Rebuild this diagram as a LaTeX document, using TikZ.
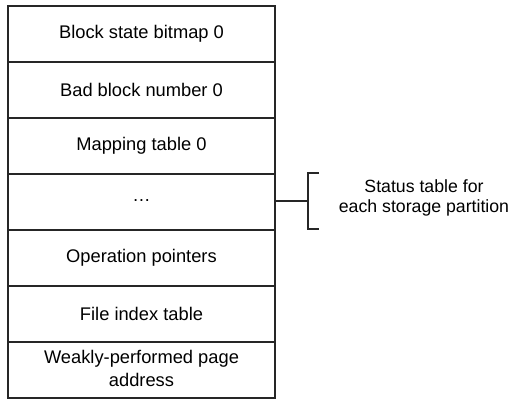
\documentclass[tikz,border=0pt]{standalone}
\usepackage{fontspec}
\setmainfont{Liberation Sans}
\begin{document}
\begin{tikzpicture}[x=1pt,y=-1pt,
  cell/.style={draw=black!85, line width=1.2pt, rectangle, minimum width=267pt,
    minimum height=56pt, inner sep=0pt, align=center,
    font=\fontsize{18.3}{23}\selectfont},
  link/.style={draw=black!85, line width=1.2pt},
  note/.style={align=center, font=\fontsize{17.7}{20.5}\selectfont}]
  \useasboundingbox (0,0) rectangle (510,399);
  % stacked table entries
  \node[cell] (r1) at (141.5,34)  {Block state bitmap 0};
  \node[cell] (r2) at (141.5,90)  {Bad block number 0};
  \node[cell] (r3) at (141.5,146) {Mapping table 0};
  \node[cell] (r4) at (141.5,202) {\raisebox{0.3ex}{…}};
  \node[cell] (r5) at (141.5,258) {Operation pointers};
  \node[cell] (r6) at (141.5,314) {File index table};
  \node[cell] (r7) at (141.5,370) {\raisebox{1pt}{\begin{tabular}{@{}c@{}}Weakly-performed page\\address\end{tabular}}};
  % bracket grouping the per-partition tables
  \coordinate (bm) at (308,201);
  \coordinate (bt) at (308,173);
  \coordinate (bb) at (308,229);
  \coordinate (tt) at (319,173);
  \coordinate (tb) at (319,229);
  \draw[link] (r4.east |- bm) -- (bm);
  \draw[link] (tt) -- (bt) -- (bb) -- (tb);
  \node[note] (lbl) at (424,198) {Status table for\\each storage partition};
\end{tikzpicture}
\end{document}
